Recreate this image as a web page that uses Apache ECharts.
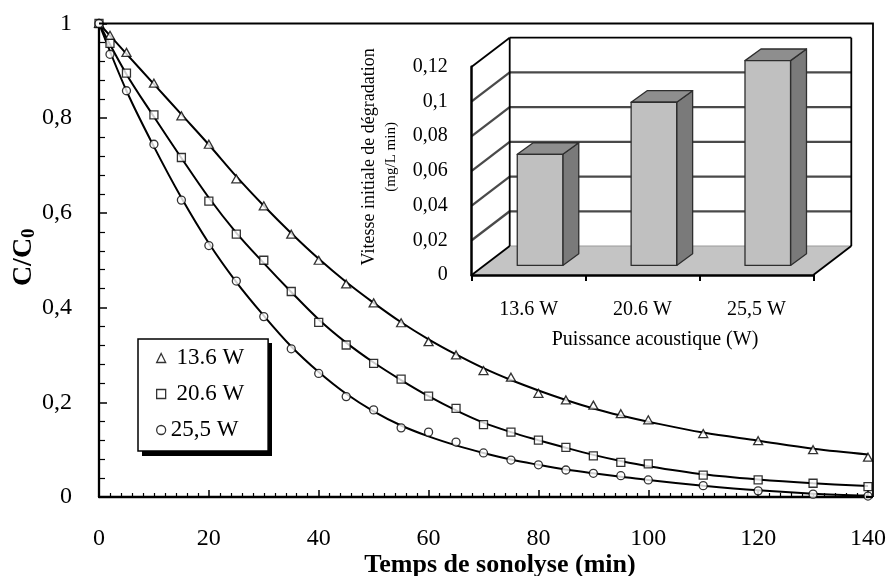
<!DOCTYPE html>
<html>
<head>
<meta charset="utf-8">
<script src="https://cdn.jsdelivr.net/npm/echarts@6/dist/echarts.min.js"></script>
<style>
html, body { margin: 0; padding: 0; background: #fff; }
#chart { width: 889px; height: 576px; }
</style>
</head>
<body>
<div id="chart"></div>
<script>
// ---- Sonolysis kinetics: C/C0 versus time for three acoustic powers ----
const timePts = [0, 2, 5, 10, 15, 20, 25, 30, 35, 40, 45, 50, 55, 60, 65, 70, 75, 80, 85, 90, 95, 100, 110, 120, 130, 140];
const ratio136 = [1, 0.975, 0.939, 0.874, 0.805, 0.745, 0.672, 0.615, 0.555, 0.500, 0.450, 0.410, 0.368, 0.328, 0.300, 0.267, 0.253, 0.219, 0.205, 0.194, 0.176, 0.163, 0.134, 0.119, 0.100, 0.084];
const ratio206 = [1, 0.958, 0.895, 0.807, 0.717, 0.625, 0.555, 0.500, 0.434, 0.369, 0.321, 0.282, 0.249, 0.213, 0.187, 0.153, 0.137, 0.120, 0.105, 0.087, 0.073, 0.070, 0.046, 0.036, 0.029, 0.022];
const ratio255 = [1, 0.935, 0.858, 0.745, 0.627, 0.531, 0.456, 0.381, 0.313, 0.261, 0.212, 0.184, 0.146, 0.137, 0.116, 0.093, 0.078, 0.068, 0.057, 0.050, 0.045, 0.036, 0.024, 0.013, 0.006, 0.002];

// Kinetic model curves
const fitTime = [0, 5, 10, 15, 20, 25, 30, 35, 40, 45, 50, 55, 60, 65, 70, 75, 80, 85, 90, 95, 100, 110, 120, 130, 140];
const fit136 = [1, 0.936, 0.872, 0.808, 0.744, 0.677, 0.615, 0.557, 0.503, 0.454, 0.410, 0.369, 0.333, 0.301, 0.272, 0.247, 0.225, 0.205, 0.187, 0.172, 0.159, 0.136, 0.119, 0.102, 0.090];
const fit206 = [1, 0.893, 0.803, 0.716, 0.632, 0.558, 0.494, 0.433, 0.375, 0.326, 0.284, 0.247, 0.213, 0.183, 0.157, 0.137, 0.120, 0.104, 0.089, 0.076, 0.065, 0.048, 0.037, 0.029, 0.023];
const fit255 = [1, 0.858, 0.740, 0.632, 0.536, 0.454, 0.383, 0.318, 0.264, 0.218, 0.181, 0.151, 0.128, 0.109, 0.093, 0.079, 0.068, 0.058, 0.050, 0.043, 0.036, 0.024, 0.014, 0.007, 0.003];

const seriesNames = ['13.6 W', '20.6 W', '25,5 W'];

// ---- Inset: initial degradation rate per acoustic power ----
const powerLabels = ['13.6 W', '20.6 W', '25,5 W'];
const initialRate = [0.064, 0.094, 0.118];
const rateTicks = [0, 0.02, 0.04, 0.06, 0.08, 0.1, 0.12];

const FONT = '"Liberation Serif", "Times New Roman", serif';
const comma = v => String(v).replace('.', ',');
const pairs = (xs, ys) => xs.map((x, i) => [x, ys[i]]);

// perspective depth vector of the 3D inset (front plane -> back wall)
const DEPTH = [38, -29];

function wallsItem(params, api) {
  const cs = params.coordSys;
  const L = cs.x, R = cs.x + cs.width;
  const v = api.value(1);
  const y = api.coord([0, v])[1];
  const y0 = api.coord([0, rateTicks[0]])[1];
  const dx = DEPTH[0], dy = DEPTH[1];
  const kids = [];
  const grid = { stroke: '#4a4a4a', lineWidth: 2.3 };
  const edge = { stroke: '#000', lineWidth: 1.8 };
  if (v === rateTicks[0]) {
    kids.push({
      type: 'polygon', z2: 0,
      shape: { points: [[L, y0], [R, y0], [R + dx, y0 + dy], [L + dx, y0 + dy]] },
      style: { fill: '#c4c4c4', stroke: null }
    });
    kids.push({ type: 'line', z2: 1, shape: { x1: L + dx, y1: y0 + dy, x2: R + dx, y2: y0 + dy }, style: { stroke: '#9a9a9a', lineWidth: 1 } });
    kids.push({ type: 'line', z2: 2, shape: { x1: L, y1: y0, x2: L + dx, y2: y0 + dy }, style: edge });
    kids.push({ type: 'line', z2: 2, shape: { x1: R, y1: y0, x2: R + dx, y2: y0 + dy }, style: edge });
  } else if (v === rateTicks[rateTicks.length - 1]) {
    kids.push({ type: 'line', z2: 2, shape: { x1: L + dx, y1: y + dy, x2: R + dx, y2: y + dy }, style: edge });
    kids.push({ type: 'line', z2: 2, shape: { x1: L, y1: y, x2: L + dx, y2: y + dy }, style: edge });
    kids.push({ type: 'line', z2: 2, shape: { x1: L + dx, y1: y + dy, x2: L + dx, y2: y0 + dy }, style: edge });
    kids.push({ type: 'line', z2: 2, shape: { x1: R + dx, y1: y + dy, x2: R + dx, y2: y0 + dy }, style: edge });
  } else {
    kids.push({ type: 'line', z2: 1, shape: { x1: L + dx, y1: y + dy, x2: R + dx, y2: y + dy }, style: grid });
    kids.push({ type: 'line', z2: 1, shape: { x1: L, y1: y, x2: L + dx, y2: y + dy }, style: grid });
  }
  return { type: 'group', children: kids };
}

function barItem(params, api) {
  const i = api.value(0), v = api.value(1);
  const base = api.coord([i, 0]);
  const top = api.coord([i, v]);
  const band = api.size([1, 0])[0];
  const w = band * 0.4;
  const ox = DEPTH[0] * 0.3, oy = DEPTH[1] * 0.33;
  const sx = DEPTH[0] * 0.42, sy = DEPTH[1] * 0.4;
  const x0 = base[0] - w / 2 + ox, x1 = x0 + w;
  const yb = base[1] + oy, yt = top[1] + oy;
  const line = { stroke: '#2e2e2e', lineWidth: 1.3, lineJoin: 'round' };
  return {
    type: 'group',
    children: [
      { type: 'polygon', shape: { points: [[x1, yt], [x1 + sx, yt + sy], [x1 + sx, yb + sy], [x1, yb]] },
        style: Object.assign({ fill: '#7a7a7a' }, line) },
      { type: 'polygon', shape: { points: [[x0, yt], [x1, yt], [x1 + sx, yt + sy], [x0 + sx, yt + sy]] },
        style: Object.assign({ fill: '#8e8e8e' }, line) },
      { type: 'rect', shape: { x: x0, y: yt, width: w, height: yb - yt },
        style: Object.assign({ fill: '#c0c0c0' }, line) }
    ]
  };
}

const marker = { color: '#fff', borderColor: '#000', borderWidth: 1.3 };
const fitLine = (data) => ({
  type: 'line', xAxisIndex: 0, yAxisIndex: 0, data, smooth: 0.35,
  showSymbol: false, silent: true, z: 2,
  lineStyle: { color: '#000', width: 2 }
});
const points = (name, symbol, size, ys) => ({
  name, type: 'scatter', xAxisIndex: 0, yAxisIndex: 0, symbol, symbolSize: size,
  data: pairs(timePts, ys), itemStyle: marker, z: 3, clip: false, silent: true
});

const option = {
  animation: false,
  backgroundColor: '#fff',
  textStyle: { fontFamily: FONT, color: '#000' },
  grid: [
    { left: 99, top: 23.5, width: 769, height: 473.5, containLabel: false, outerBoundsMode: 'none' },
    { left: 471.7, top: 66.7, width: 341.6, height: 208.3, containLabel: false, outerBoundsMode: 'none' }
  ],
  legend: {
    orient: 'vertical', left: 138, top: 339, z: 6,
    padding: [7, 24, 9, 18], itemGap: 12, itemWidth: 9, itemHeight: 9,
    backgroundColor: '#fff', borderColor: '#000', borderWidth: 1.5,
    selectedMode: false,
    itemStyle: marker,
    textStyle: { fontFamily: FONT, fontSize: 23, color: '#000', lineHeight: 24 },
    formatter: name => (name === seriesNames[2] ? name : '\u00a0' + name),
    data: [
      { name: seriesNames[0], icon: 'triangle' },
      { name: seriesNames[1], icon: 'rect' },
      { name: seriesNames[2], icon: 'circle' }
    ]
  },
  xAxis: [
    {
      type: 'value', gridIndex: 0, min: 0, max: 140, interval: 20,
      axisLine: { lineStyle: { color: '#000', width: 2.3 } },
      axisTick: { inside: true, length: 7, lineStyle: { color: '#000', width: 1.5 } },
      minorTick: { show: true, splitNumber: 10, length: 4, lineStyle: { color: '#000', width: 1.2 } },
      splitLine: { show: false },
      axisLabel: { fontFamily: FONT, fontSize: 24, color: '#000', margin: 30 },
      name: 'Temps de sonolyse (min)', nameLocation: 'middle', nameGap: 55, nameMoveOverlap: false,
      nameTextStyle: { fontFamily: FONT, fontSize: 26, fontWeight: 'bold', color: '#000', padding: [0, 0, 0, 33] }
    },
    {
      type: 'category', gridIndex: 1, data: powerLabels, z: 5,
      axisLine: { lineStyle: { color: '#000', width: 2.5 } },
      axisTick: { show: true, length: 6, lineStyle: { color: '#000', width: 2 } },
      splitLine: { show: false },
      axisLabel: { fontFamily: FONT, fontSize: 20, color: '#000', margin: 25 },
      name: 'Puissance acoustique (W)', nameLocation: 'middle', nameGap: 55, nameMoveOverlap: false,
      nameTextStyle: { fontFamily: FONT, fontSize: 20, color: '#000', padding: [0, 0, 0, 25] }
    }
  ],
  yAxis: [
    {
      type: 'value', gridIndex: 0, min: 0, max: 1, interval: 0.2,
      axisLine: { show: true, lineStyle: { color: '#000', width: 2.3 } },
      axisTick: { show: true, inside: true, length: 8, lineStyle: { color: '#000', width: 1.5 } },
      minorTick: { show: true, splitNumber: 5, length: 6, lineStyle: { color: '#000', width: 1.2 } },
      splitLine: { show: false },
      axisLabel: { fontFamily: FONT, fontSize: 24, color: '#000', margin: 27, formatter: comma },
      name: '{a|C/C}{b|0}', nameLocation: 'middle', nameRotate: 90, nameGap: 60, nameMoveOverlap: false,
      nameTextStyle: {
        padding: [0, 0, 0, 6],
        rich: {
          a: { fontFamily: FONT, fontSize: 28, fontWeight: 'bold', color: '#000', lineHeight: 30 },
          b: { fontFamily: FONT, fontSize: 19, fontWeight: 'bold', color: '#000', lineHeight: 30, verticalAlign: 'bottom', padding: [6, 0, 0, 0] }
        }
      }
    },
    {
      type: 'value', gridIndex: 1, min: 0, max: 0.12, interval: 0.02, z: 5,
      axisLine: { show: true, lineStyle: { color: '#000', width: 2.5 } },
      axisTick: { show: false },
      splitLine: { show: false },
      axisLabel: { fontFamily: FONT, fontSize: 20, color: '#000', margin: 24, formatter: comma },
      name: '{a|Vitesse initiale de dégradation}\n{b|(mg/L min)}',
      nameLocation: 'middle', nameRotate: 90, nameGap: 70, nameMoveOverlap: false,
      nameTextStyle: {
        padding: [0, 0, 0, 28],
        rich: {
          a: { fontFamily: FONT, fontSize: 18, color: '#000', lineHeight: 23 },
          b: { fontFamily: FONT, fontSize: 15, color: '#000', lineHeight: 21 }
        }
      }
    }
  ],
  series: [
    fitLine(pairs(fitTime, fit136)),
    fitLine(pairs(fitTime, fit206)),
    fitLine(pairs(fitTime, fit255)),
    points(seriesNames[0], 'triangle', [9, 8], ratio136),
    points(seriesNames[1], 'rect', 8, ratio206),
    points(seriesNames[2], 'circle', 8, ratio255),
    {
      type: 'custom', xAxisIndex: 1, yAxisIndex: 1, z: 1, silent: true,
      renderItem: wallsItem,
      data: rateTicks.map(v => [0, v]),
      encode: { x: 0, y: 1 }
    },
    {
      type: 'custom', xAxisIndex: 1, yAxisIndex: 1, z: 3, silent: true,
      renderItem: barItem,
      data: initialRate.map((v, i) => [i, v]),
      encode: { x: 0, y: 1 }
    }
  ],
  graphic: [
    // plot frame (top and right sides)
    { type: 'polyline', silent: true, z: 10,
      shape: { points: [[99, 23.5], [873, 23.5], [873, 497]] },
      style: { stroke: '#000', lineWidth: 1.8, fill: null } },
    { type: 'line', silent: true, z: 10,
      shape: { x1: 866, y1: 497, x2: 873, y2: 497 },
      style: { stroke: '#000', lineWidth: 2.3 } },
    // drop shadow behind the legend box
    { type: 'rect', silent: true, z: 5,
      shape: { x: 142, y: 343, width: 130, height: 113 },
      style: { fill: '#000' } }
  ]
};

const chart = echarts.init(document.getElementById('chart'), null, { renderer: 'canvas' });
chart.setOption(option);
</script>
</body>
</html>
